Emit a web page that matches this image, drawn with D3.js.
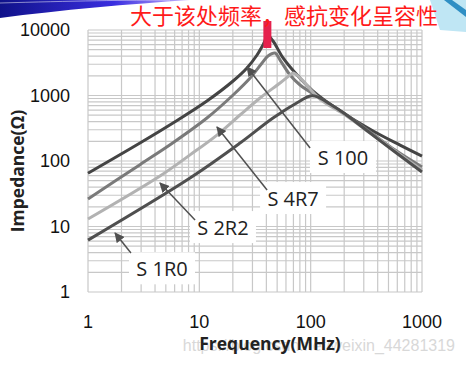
<!DOCTYPE html>
<html>
<head>
<meta charset="utf-8">
<script src="https://cdn.jsdelivr.net/npm/d3@7"></script>
<style>
  body { margin: 0; background: #fff; }
  svg { display: block; }
</style>
</head>
<body>
<div id="chart"></div>
<script>
/* values: [frequency MHz, impedance ohm] */
const s100 = [[1, 65], [2.93, 188], [5.8, 380], [11.7, 824], [20.1, 1665], [26.8, 2630],
  [33, 4150], [37.3, 5900], [41.4, 8100], [45.9, 6790], [56.5, 3740], [75.5, 2055],
  [105, 1170], [184, 580], [364, 287], [635, 175], [1000, 119]];
const s4r7 = [[1, 26.3], [2.93, 88], [5.8, 190], [11.7, 453], [20.1, 1018], [28.6, 1850],
  [36.6, 3130], [41.4, 4010], [47.9, 4450], [53.1, 3480], [65.3, 2055], [80.3, 1445],
  [121, 916], [204, 522], [342, 277], [573, 147], [1000, 81]];
const s2r2 = [[1, 13], [4.43, 59], [8.25, 124], [14.4, 249], [23.2, 504], [35.1, 916],
  [53.1, 1552], [65.3, 2055], [69.5, 2210], [80.3, 1850], [121, 885], [204, 504],
  [342, 267], [573, 142], [1000, 73]];
const s1r0 = [[1, 6.2], [8.25, 55], [23.2, 188], [45.9, 453], [80.3, 824], [98.8, 982],
  [114, 960], [149, 742], [204, 522], [342, 267], [573, 137], [1000, 68]];

const seriesNames = ["S 100", "S 4R7", "S 2R2", "S 1R0"];
const seriesData = [s100, s4r7, s2r2, s1r0];
const seriesColors = ["#444444", "#7a7a7a", "#b2b2b2", "#4f4f4f"];

/* arrow tip, arrow tail and label centre, in data units */
const arrowTips = [[26.8, 2720], [14.4, 330], [4.43, 46], [1.75, 7.96]];
const arrowTails = [[98.8, 158], [40.6, 36], [9.15, 12.6], [2.43, 3.94]];
const labelSpots = [[195, 115], [69.5, 27.2], [16.3, 9.8], [4.62, 2.3]];

const xTickLabels = [1, 10, 100, 1000];
const yTickLabels = [1, 10, 100, 1000, 10000];

const W = 466, H = 373;
const svg = d3.select("#chart").append("svg").attr("width", W).attr("height", H);

/* slide background bits */
const defs = svg.append("defs");
const g1 = defs.append("linearGradient").attr("id", "swoosh").attr("x1", 0).attr("x2", 1);
g1.append("stop").attr("offset", 0).attr("stop-color", "#10128a");
g1.append("stop").attr("offset", 0.6).attr("stop-color", "#3a2ee0");
g1.append("stop").attr("offset", 1).attr("stop-color", "#c9b8ff");
svg.append("path").attr("d", "M0,0 L190,0 C130,4 60,10 0,18 Z").attr("fill", "url(#swoosh)");
svg.append("path").attr("d", "M0,3 C70,1 130,0 170,0").attr("stroke", "#ffffff").attr("stroke-opacity", 0.5).attr("fill", "none");
svg.append("path").attr("d", "M430,0 L466,0 L466,32 L440,30 Z").attr("fill", "#bfe6f4");
svg.append("path").attr("d", "M444,0 L452,0 L466,10 L466,17 Z").attr("fill", "#2f8fc4");

const x = d3.scaleLog().domain([1, 1000]).range([88, 422]);
const y = d3.scaleLog().domain([1, 10000]).range([292, 30]);

/* grid */
const grid = svg.append("g").attr("stroke", "#c8c8c8").attr("stroke-width", 1.2);
x.ticks().forEach(t => {
  grid.append("line").attr("x1", x(t)).attr("x2", x(t)).attr("y1", y(1)).attr("y2", y(10000));
});
y.ticks().forEach(t => {
  grid.append("line").attr("x1", x(1)).attr("x2", x(1000)).attr("y1", y(t)).attr("y2", y(t));
});

/* curves */
const line = d3.line()
  .x(d => x(d[0]))
  .y(d => y(d[1]))
  .curve(d3.curveCatmullRom.alpha(0.5));

seriesData.forEach((data, i) => {
  svg.append("path")
    .datum(data)
    .attr("fill", "none")
    .attr("stroke", seriesColors[i])
    .attr("stroke-width", 3)
    .attr("stroke-linejoin", "round")
    .attr("d", line);
});

/* labels with white boxes and arrows */
defs.append("marker").attr("id", "head")
  .attr("viewBox", "0 0 10 10").attr("refX", 9).attr("refY", 5)
  .attr("markerWidth", 10).attr("markerHeight", 10).attr("markerUnits", "userSpaceOnUse")
  .attr("orient", "auto")
  .append("path").attr("d", "M0,0 L10,5 L0,10 Z").attr("fill", "#505050");

seriesNames.forEach((name, i) => {
  const cx = x(labelSpots[i][0]), cy = y(labelSpots[i][1]);
  svg.append("rect")
    .attr("x", cx - 33).attr("y", cy - 16)
    .attr("width", 66).attr("height", 32)
    .attr("fill", "#fff");
  svg.append("line")
    .attr("x1", x(arrowTails[i][0])).attr("y1", y(arrowTails[i][1]))
    .attr("x2", x(arrowTips[i][0])).attr("y2", y(arrowTips[i][1]))
    .attr("stroke", "#505050").attr("stroke-width", 1.5)
    .attr("marker-end", "url(#head)");
  svg.append("text")
    .attr("x", cx).attr("y", cy)
    .attr("text-anchor", "middle").attr("dominant-baseline", "central")
    .attr("font-family", "'Open Sans', sans-serif").attr("font-size", 20)
    .attr("fill", "#222")
    .text(name);
});

/* tick labels */
svg.append("g").selectAll("text").data(xTickLabels).join("text")
  .attr("x", d => x(d)).attr("y", 328)
  .attr("text-anchor", "middle")
  .attr("font-family", "'Liberation Sans', Arial, sans-serif").attr("font-size", 18)
  .attr("fill", "#111")
  .text(d => d);

svg.append("g").selectAll("text").data(yTickLabels).join("text")
  .attr("x", 70).attr("y", d => y(d))
  .attr("text-anchor", "end").attr("dominant-baseline", "central")
  .attr("font-family", "'Liberation Sans', Arial, sans-serif").attr("font-size", 18)
  .attr("fill", "#111")
  .text(d => d);

/* watermark */
svg.append("text")
  .attr("x", 455).attr("y", 351)
  .attr("text-anchor", "end")
  .attr("font-family", "'Liberation Sans', Arial, sans-serif").attr("font-size", 16)
  .attr("fill", "#d8d8d8")
  .text("https://blog.csdn.net/weixin_44281319");

/* axis titles */
svg.append("text")
  .attr("x", 270).attr("y", 350)
  .attr("text-anchor", "middle")
  .attr("font-family", "'Open Sans', sans-serif").attr("font-weight", "bold").attr("font-size", 17.5)
  .attr("fill", "#222")
  .text("Frequency(MHz)");

svg.append("text")
  .attr("transform", "translate(17,171) rotate(-90)")
  .attr("text-anchor", "middle").attr("dominant-baseline", "central")
  .attr("font-family", "'Open Sans', sans-serif").attr("font-weight", "bold").attr("font-size", 17.5)
  .attr("fill", "#222")
  .text("Impedance(Ω)");

/* red note and marker */
svg.append("rect")
  .attr("x", x(40) - 3).attr("y", 21).attr("width", 8).attr("height", 27)
  .attr("fill", "#e5214d");
svg.append("text")
  .attr("x", 284).attr("y", 24)
  .attr("text-anchor", "middle")
  .attr("font-family", "'Noto Sans CJK SC', sans-serif").attr("font-size", 22)
  .attr("fill", "#ff1a1a")
  .text("大于该处频率，感抗变化呈容性");
</script>
</body>
</html>
